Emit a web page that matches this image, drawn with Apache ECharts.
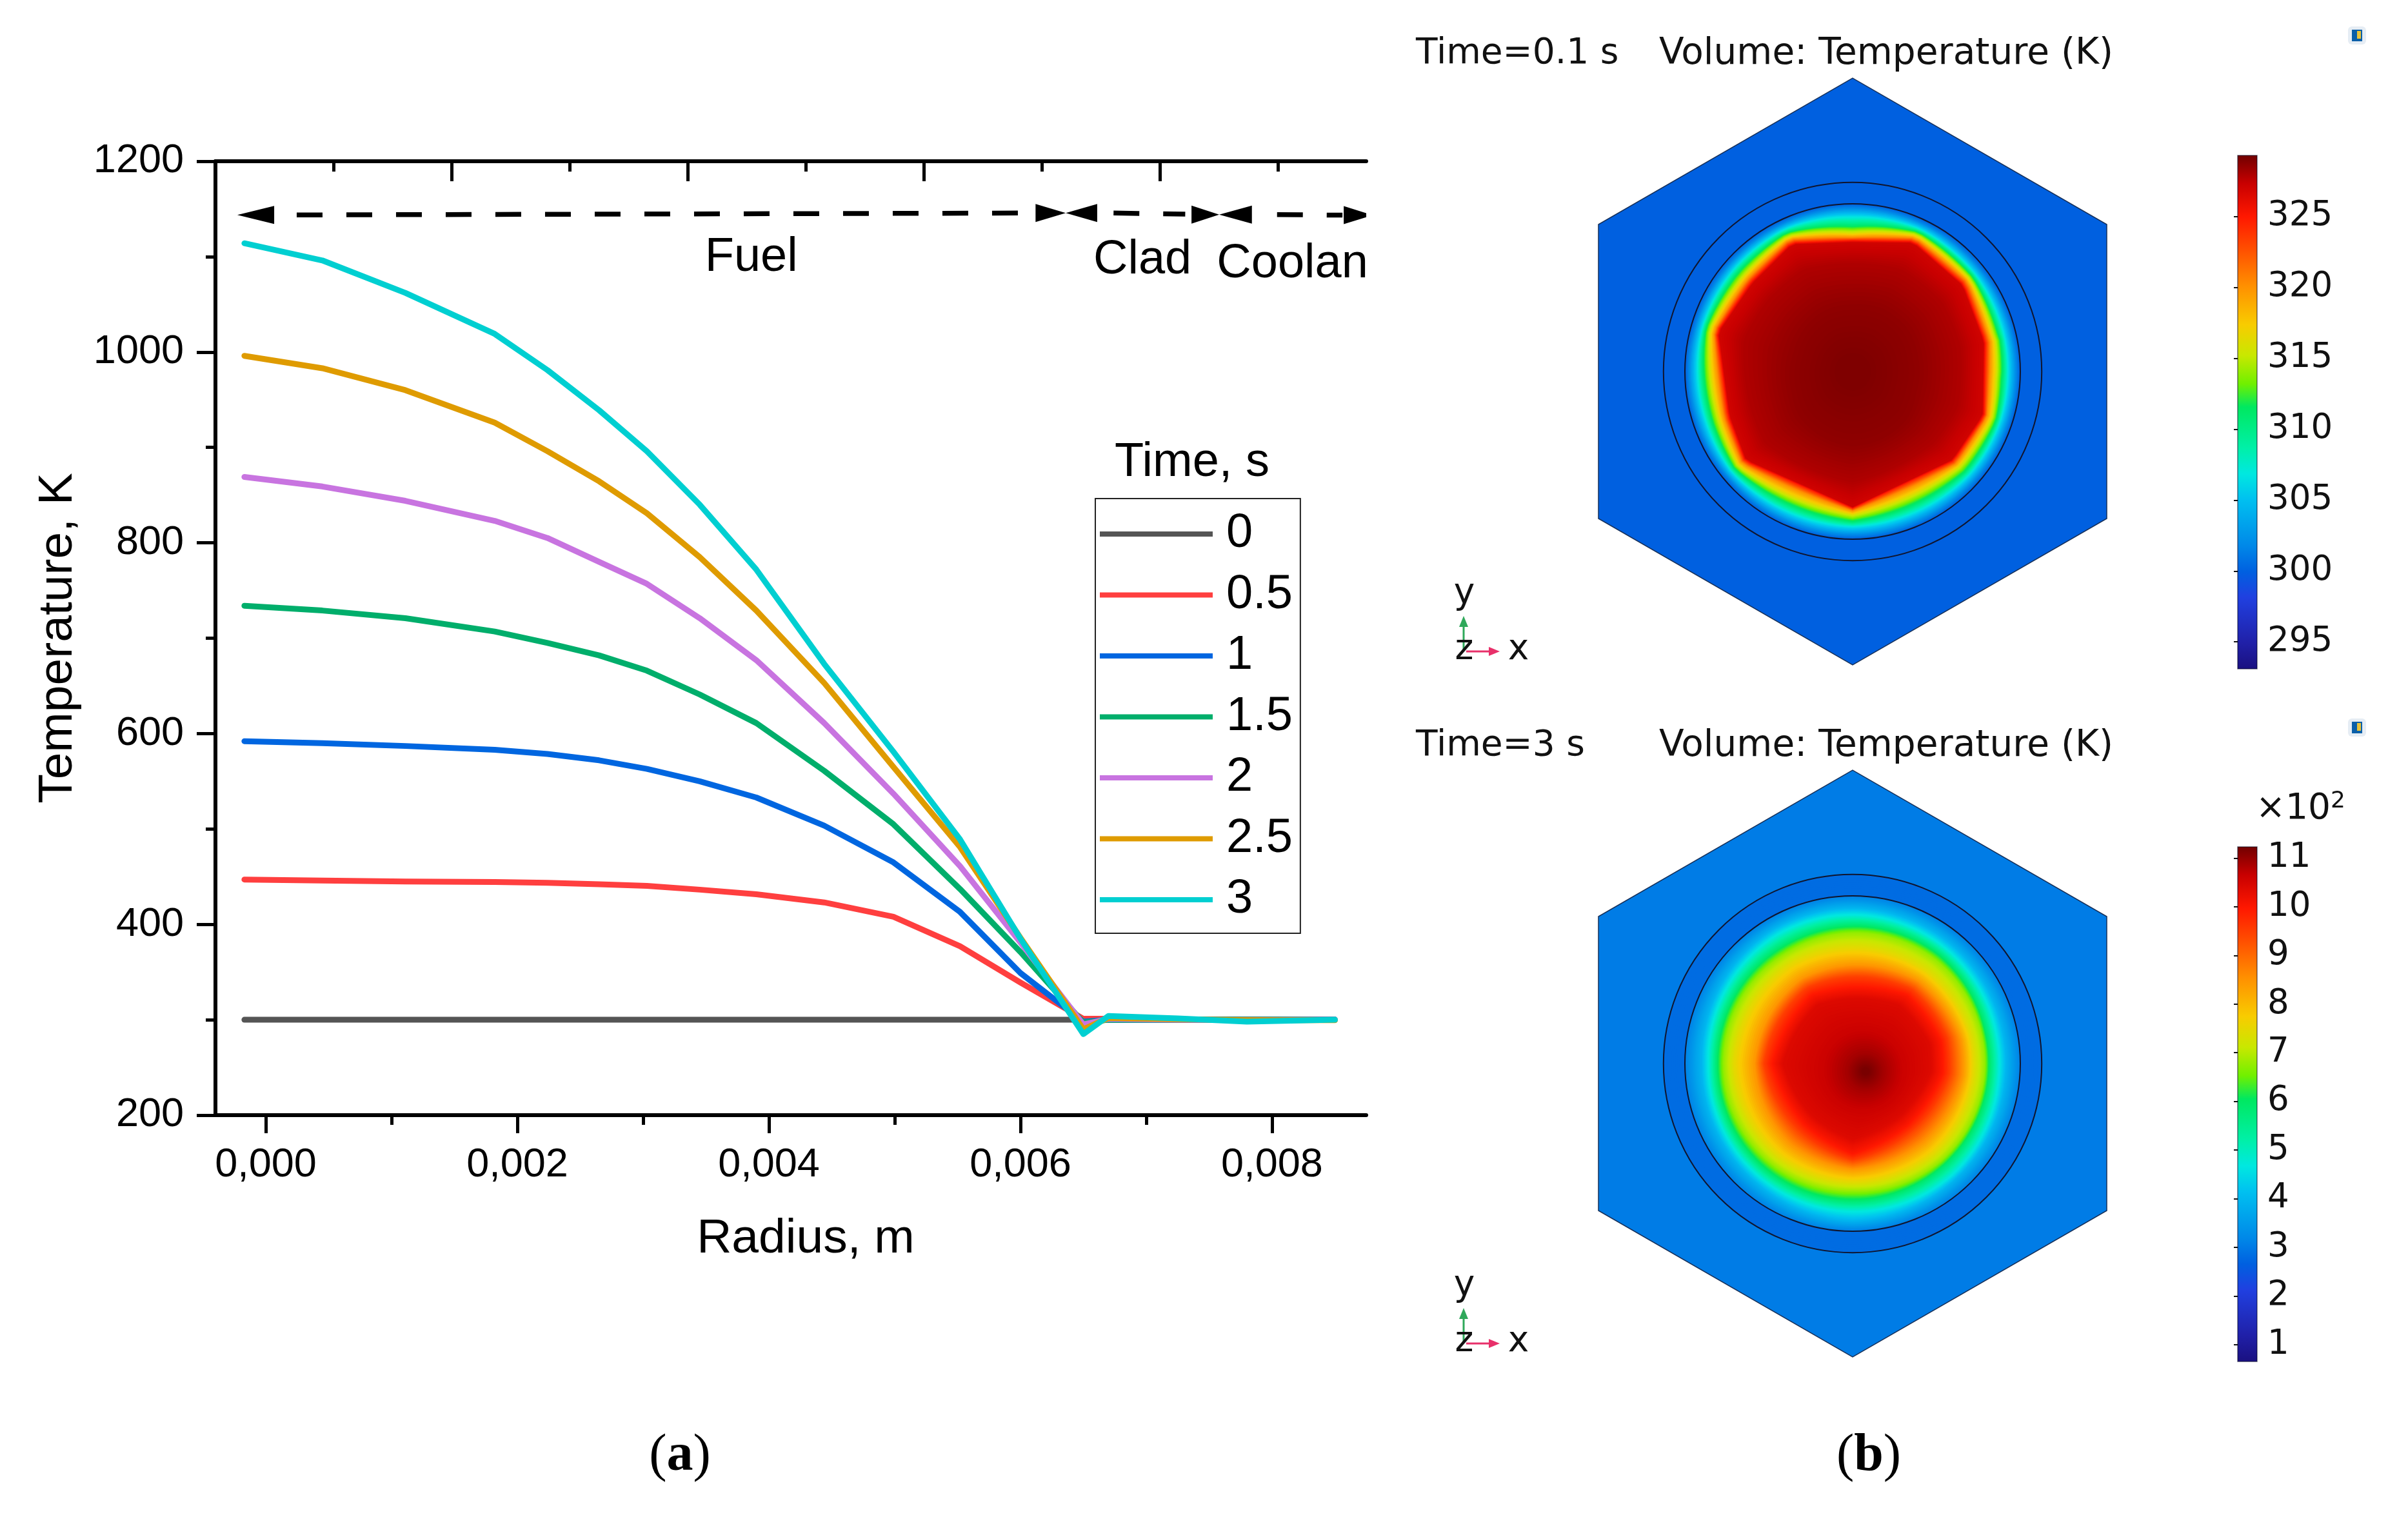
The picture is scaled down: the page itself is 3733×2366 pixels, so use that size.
<!DOCTYPE html>
<html>
<head>
<meta charset="utf-8">
<title>Temperature</title>
<script src="https://cdn.jsdelivr.net/npm/echarts@6/dist/echarts.min.js"></script>
<style>
  html, body { margin: 0; padding: 0; background: #fff; }
  #chart { width: 3733px; height: 2366px; }
</style>
</head>
<body>
<div id="chart"></div>
<script>
// (a) temperature profiles
const radius = [-0.00017, 0.00045, 0.00111, 0.00182, 0.00224, 0.00265, 0.00303, 0.00345, 0.0039, 0.00444, 0.00499, 0.00552, 0.006, 0.0065, 0.0067, 0.00725, 0.0078, 0.0085]
const timeLabels = ['0', '0.5', '1', '1.5', '2', '2.5', '3']
const lineColors = ['#555555', '#ff3f3f', '#0066e0', '#00ae6b', '#c874e0', '#df9b00', '#00cfd1']
const t0 = [300, 300, 300, 300, 300, 300, 300, 300, 300, 300, 300, 300, 300, 300, 300, 300, 300, 300]
const t05 = [447, 446, 445, 444.5, 443.6, 442, 440.4, 436.4, 431.6, 423, 408, 377, 339, 301, 301, 300, 300, 300]
const t1 = [592, 590, 587, 583, 578.6, 572, 563, 550, 533, 503.5, 465, 413, 349, 298, 300, 300, 300, 300]
const t15 = [734, 729, 721, 707, 695, 682, 666, 641, 611, 561, 505, 437, 371, 297, 300, 300, 300, 300]
const t2 = [869, 859, 844, 823, 805, 780, 757, 721, 677, 611, 537, 461, 381, 295, 301, 300, 299.5, 300]
const t25 = [996, 983, 960, 926, 896, 864.5, 831, 785, 729, 653, 565, 481, 386, 290, 302, 300.5, 299.5, 299.5]
const t3 = [1114, 1096, 1062, 1019, 981, 939, 896, 840, 772, 673, 581, 489, 385, 285, 304, 301.5, 298, 300]
const lineValues = [t0, t05, t1, t15, t2, t25, t3]

const xTicks = [0, 0.002, 0.004, 0.006, 0.008]
const xTickLabels = ['0,000', '0,002', '0,004', '0,006', '0,008']
const xMinorTicks = [0.001, 0.003, 0.005, 0.007]
const topTicks = [1, 2, 3, 4]
const topMinorTicks = [0.5, 1.5, 2.5, 3.5, 4.5]

// region arrows above the curves
const arrowTip = [-0.000226, 0.00636, 0.00636, 0.00758, 0.00758, 0.0088]
const arrowBase = [0.000067, 0.00612, 0.00661, 0.00736, 0.00784, 0.00857]
const arrowTemp = [1143.7, 1145.7, 1145.7, 1144, 1144, 1143.5]
const dashFuelX = [0.000246, 0.00601]
const dashFuelT = [1143.7, 1145.7]
const dashCladX = [0.00674, 0.00731]
const dashCladT = [1145.7, 1144.5]
const dashCoolantX = [0.00804, 0.00856]
const dashCoolantT = [1144, 1143.5]
const regionNames = ['Fuel', 'Clad', 'Coolant']
const regionX = [0.00386, 0.00697, 0.008215]
const regionT = [1099, 1096, 1092]

// (b) colour scale, positions counted from the bottom of the bar
const colorPos = [0, 0.052, 0.14, 0.19, 0.24, 0.33, 0.38, 0.43, 0.51, 0.555, 0.61, 0.67, 0.745, 0.82, 0.88, 0.945, 1]
const colorHex = ['#1a1080', '#2020a8', '#2040e0', '#0060e0', '#0088e8', '#00c0f0', '#00e8e0', '#00f0a8', '#00e860', '#70f000', '#c8e800', '#f8cc00', '#ff9000', '#ff4c00', '#ff1800', '#c80000', '#700000']

const barTopTicks = [295, 300, 305, 310, 315, 320, 325]
const barTopRange = [293.1, 329.3]
const barBottomTicks = [1, 2, 3, 4, 5, 6, 7, 8, 9, 10, 11]
const barBottomRange = [0.656, 11.23]

// cell outline in mm
const hexX = [0, 9.85, 9.85, 0, -9.85, -9.85]
const hexY = [11.37, 5.7, -5.7, -11.37, -5.7, 5.7]
const circleR = [6.5, 7.33]

// isotherms: [temperature, centre x, centre y, radius per angle, straightness of the edges]
const topAngles = [12.8, 38, 64.8, 90, 115.5, 139, 163.7, 199.8, 219.7, 270, 318.5, 341.4]
const topRings = [
  [300, 0, 0, [6.5, 6.5, 6.5, 6.5, 6.5, 6.5, 6.5, 6.5, 6.5, 6.5, 6.5, 6.5], 0],
  [301.8, 0, 0, [6.35, 6.35, 6.35, 6.35, 6.35, 6.35, 6.35, 6.35, 6.35, 6.35, 6.35, 6.35], 0],
  [306.9, 0, 0, [6.05, 6.08, 6.12, 6, 6.12, 6.08, 6.08, 6.02, 6.1, 6.02, 6.05, 6.05], 0.1],
  [311.2, 0, 0, [5.85, 5.95, 6, 5.65, 5.98, 5.88, 5.95, 5.8, 5.95, 5.83, 5.85, 5.9], 0.3],
  [316.3, 0, 0, [5.62, 5.78, 5.85, 5.36, 5.8, 5.6, 5.75, 5.5, 5.75, 5.55, 5.55, 5.68], 0.5],
  [320.3, 0, 0, [5.45, 5.65, 5.72, 5.2, 5.68, 5.42, 5.6, 5.3, 5.58, 5.4, 5.38, 5.5], 0.8],
  [325, 0, 0, [5.28, 5.48, 5.58, 5.08, 5.53, 5.25, 5.48, 5.13, 5.43, 5.3, 5.22, 5.38], 1],
  [327, 0, 0, [5.2, 5.4, 5.5, 5, 5.45, 5.16, 5.4, 5.05, 5.35, 5.25, 5.15, 5.3], 1],
  [327.9, 0, 0, [4.3, 4.4, 4.4, 4.2, 4.4, 4.3, 4.4, 4.2, 4.4, 4.3, 4.2, 4.3], 0.5],
  [328.6, 0, 0, [2.6, 2.7, 2.7, 2.6, 2.6, 2.5, 2.4, 2.5, 2.7, 2.9, 2.8, 2.6], 0],
  [329, 0, 0, [0.5, 0.5, 0.5, 0.5, 0.5, 0.5, 0.5, 0.5, 0.5, 0.5, 0.5, 0.5], 0]
]
const bottomAngles = [13, 52, 121, 180, 232, 270, 312, 353.5]
const bottomRings = [
  [283, 0, 0, [7.33, 7.33, 7.33, 7.33, 7.33, 7.33, 7.33, 7.33], 0],
  [283, 0, 0, [6.55, 6.55, 6.55, 6.55, 6.55, 6.55, 6.55, 6.55], 0],
  [320, 0, 0, [6.45, 6.45, 6.45, 6.45, 6.45, 6.45, 6.45, 6.45], 0],
  [400, 0, 0, [5.95, 6, 6.05, 5.85, 5.95, 6.1, 6, 5.95], 0],
  [470, 0, 0, [5.7, 5.75, 5.8, 5.6, 5.7, 5.75, 5.8, 5.7], 0],
  [600, 0, 0, [5.3, 5.4, 5.3, 5.25, 5.3, 5.3, 5.3, 5.3], 0],
  [680, 0, 0, [5.12, 5.15, 5, 5, 5, 4.95, 5.1, 5.12], 0],
  [750, 0, 0, [4.7, 4.6, 4.55, 4.6, 4.6, 4.6, 4.7, 4.7], 0.1],
  [850, 0, 0, [4.3, 4.1, 3.85, 3.8, 3.95, 4.1, 4.1, 4.3], 0.2],
  [950, 0, 0, [3.85, 3.7, 3.45, 3.45, 3.35, 3.75, 3.5, 3.8], 0.3],
  [1000, 0, 0, [3.55, 3.4, 3.1, 3.12, 3, 3.5, 3.2, 3.5], 0.5],
  [1040, 0, 0, [3.1, 2.9, 2.65, 2.7, 2.55, 2.95, 2.75, 3.05], 0.5],
  [1060, 0.4, -0.25, [1.6, 1.6, 1.6, 1.6, 1.6, 1.6, 1.6, 1.6], 0],
  [1090, 0.5, -0.3, [0.7, 0.7, 0.7, 0.7, 0.7, 0.7, 0.7, 0.7], 0],
  [1120, 0.5, -0.3, [0.1, 0.1, 0.1, 0.1, 0.1, 0.1, 0.1, 0.1], 0]
]

const SANS = 'Liberation Sans'
const DEJAVU = 'DejaVu Sans'

const hexRgb = h => [1, 3, 5].map(i => parseInt(h.substr(i, 2), 16))
const colorAt = t => {
  t = Math.max(0, Math.min(1, t))
  let i = 0
  while (i < colorPos.length - 2 && t > colorPos[i + 1]) i++
  const f = (t - colorPos[i]) / (colorPos[i + 1] - colorPos[i])
  const a = hexRgb(colorHex[i]), b = hexRgb(colorHex[i + 1])
  return 'rgb(' + a.map((v, k) => Math.round(v + (b[k] - v) * f)).join(',') + ')'
}

const ringPoints = (ring, angles) => {
  const pts = []
  const n = angles.length
  const rad = Math.PI / 180
  for (let k = 0; k < 120; k++) {
    const deg = k * 3
    let i = n - 1
    for (let j = 0; j < n; j++) if (angles[j] <= deg) i = j
    const next = (i + 1) % n
    const from = angles[i] <= deg ? angles[i] : angles[i] - 360
    const to = next === 0 ? angles[0] + 360 : angles[next]
    const f = (deg - from) / (to - from)
    const r1 = ring[3][i], r2 = ring[3][next]
    const arc = r1 + (r2 - r1) * f
    // straight edge between the two vertices
    const chord = r1 * r2 * Math.sin((to - from) * rad) / (r1 * Math.sin((deg - from) * rad) + r2 * Math.sin((to - deg) * rad))
    const r = arc + (chord - arc) * ring[4]
    pts.push([ring[1] + r * Math.cos(deg * rad), ring[2] + r * Math.sin(deg * rad)])
  }
  return pts
}

// one data item per pair of neighbouring isotherms, each band shaded with thin strips
const fieldSeries = (axis, rings, angles, range) => ({
  type: 'custom', xAxisIndex: axis.x, yAxisIndex: axis.y, silent: true, z: 3,
  data: rings.slice(1).map((r, i) => [i, 0]),
  renderItem: (params, api) => {
    const a = rings[api.value(0)], b = rings[api.value(0) + 1]
    const pa = ringPoints(a, angles), pb = ringPoints(b, angles)
    const children = []
    const strips = 10
    for (let s = 0; s < strips; s++) {
      const f = s / strips
      const temp = a[0] + (b[0] - a[0]) * f
      children.push({
        type: 'polygon',
        shape: { points: pa.map((p, k) => api.coord([p[0] + (pb[k][0] - p[0]) * f, p[1] + (pb[k][1] - p[1]) * f])) },
        style: { fill: colorAt((temp - range[0]) / (range[1] - range[0])) }
      })
    }
    return { type: 'group', children }
  }
})

const hexSeries = (axis, fill) => ({
  type: 'custom', xAxisIndex: axis.x, yAxisIndex: axis.y, silent: true, z: 2,
  data: [[0, 0]],
  renderItem: (params, api) => ({
    type: 'polygon',
    shape: { points: hexX.map((x, i) => api.coord([x, hexY[i]])) },
    style: { fill, stroke: '#16305a', lineWidth: 1.5 }
  })
})

const circleSeries = (axis) => ({
  type: 'custom', xAxisIndex: axis.x, yAxisIndex: axis.y, silent: true, z: 4,
  data: circleR.map(r => [r, 0]),
  renderItem: (params, api) => {
    const c = api.coord([0, 0])
    return {
      type: 'circle',
      shape: { cx: c[0], cy: c[1], r: api.size([api.value(0), 0])[0] },
      style: { fill: null, stroke: '#10152e', lineWidth: 2 }
    }
  }
})

const barSeries = (axis, range) => ({
  type: 'custom', xAxisIndex: axis.x, yAxisIndex: axis.y, silent: true, z: 2,
  data: [[0, range[0]]],
  renderItem: (params, api) => {
    const top = api.coord([0, range[1]]), bottom = api.coord([1, range[0]])
    return {
      type: 'rect',
      shape: { x: top[0], y: top[1], width: bottom[0] - top[0], height: bottom[1] - top[1] },
      style: {
        fill: new echarts.graphic.LinearGradient(0, 1, 0, 0, colorPos.map((p, i) => ({ offset: p, color: colorHex[i] }))),
        stroke: 'rgba(0,0,30,0.55)', lineWidth: 1.5
      }
    }
  }
})

const hiddenX = (gridIndex, min, max) => ({ type: 'value', gridIndex, min, max, show: false })
const fieldY = gridIndex => ({ type: 'value', gridIndex, min: -11.5, max: 11.5, show: false })
const barY = (gridIndex, position, ticks, range, labels) => ({
  type: 'value', gridIndex, position, min: range[0], max: range[1],
  axisLine: { show: false }, splitLine: { show: false },
  axisTick: { inside: true, length: 6, customValues: ticks, lineStyle: { color: '#111', width: 2 } },
  axisLabel: labels ? { customValues: ticks, margin: 16, color: '#111', fontFamily: DEJAVU, fontSize: 53, padding: [14, 0, 0, 0] } : { show: false }
})

const mainAxisLine = { onZero: false, lineStyle: { color: '#000', width: 6 } }
const tickStyle = { color: '#000', width: 5 }
const topAxis = (ticks, length) => ({
  type: 'value', gridIndex: 0, position: 'top', min: 0, max: 4.874,
  axisLine: ticks === topTicks ? mainAxisLine : { show: false },
  axisTick: { inside: true, length, customValues: ticks, lineStyle: tickStyle },
  axisLabel: { show: false }, splitLine: { show: false }
})

const xAxis = [
  {
    type: 'value', gridIndex: 0, position: 'bottom', min: -0.0004, max: 0.008749,
    name: 'Radius, m', nameLocation: 'middle', nameGap: 155,
    nameTextStyle: { color: '#000', fontFamily: SANS, fontSize: 75, padding: [0, 0, 0, 46] },
    axisLine: mainAxisLine,
    axisTick: { length: 28, customValues: xTicks, lineStyle: tickStyle },
    axisLabel: {
      customValues: xTicks, margin: 46, color: '#000', fontFamily: SANS, fontSize: 63,
      formatter: v => xTickLabels[xTicks.indexOf(v)]
    },
    splitLine: { show: false }
  },
  {
    type: 'value', gridIndex: 0, position: 'bottom', min: -0.0004, max: 0.008749,
    axisLine: { show: false, onZero: false },
    axisTick: { length: 15, customValues: xMinorTicks, lineStyle: tickStyle },
    axisLabel: { show: false }, splitLine: { show: false }
  },
  topAxis(topTicks, 31),
  topAxis(topMinorTicks, 16),
  hiddenX(1, -10, 10), hiddenX(2, 0, 1), hiddenX(3, -10, 10), hiddenX(4, 0, 1)
]

const yAxis = [
  {
    type: 'value', gridIndex: 0, min: 200, max: 1200, interval: 200,
    name: 'Temperature, K', nameLocation: 'middle', nameGap: 206, nameRotate: 90,
    nameTextStyle: { color: '#000', fontFamily: SANS, fontSize: 75 },
    axisLine: mainAxisLine,
    axisTick: { length: 29, lineStyle: tickStyle },
    minorTick: { show: true, splitNumber: 2, length: 15, lineStyle: tickStyle },
    axisLabel: { margin: 49, color: '#000', fontFamily: SANS, fontSize: 63, formatter: v => String(v), padding: [12, 0, 0, 0] },
    splitLine: { show: false }
  },
  fieldY(1),
  barY(2, 'right', barTopTicks, barTopRange, true),
  barY(2, 'left', barTopTicks, barTopRange, false),
  fieldY(3),
  barY(4, 'right', barBottomTicks, barBottomRange, true),
  barY(4, 'left', barBottomTicks, barBottomRange, false)
]

const dashSeries = (xs, ts) => ({
  type: 'line', xAxisIndex: 0, yAxisIndex: 0, silent: true, symbol: 'none', z: 3,
  data: xs.map((x, i) => [x, ts[i]]),
  lineStyle: { color: '#000', width: 7.5, type: [40, 37] }
})

const series = [
  ...timeLabels.map((name, i) => ({
    name, type: 'line', xAxisIndex: 0, yAxisIndex: 0, symbol: 'none', z: 5,
    data: radius.map((x, k) => [x, lineValues[i][k]]),
    lineStyle: { color: lineColors[i], width: 9, cap: 'round', join: 'round' },
    itemStyle: { color: lineColors[i] }
  })),
  dashSeries(dashFuelX, dashFuelT),
  dashSeries(dashCladX, dashCladT),
  dashSeries(dashCoolantX, dashCoolantT),
  {
    type: 'custom', xAxisIndex: 0, yAxisIndex: 0, silent: true, clip: true, z: 3,
    data: arrowTip.map((x, i) => [x, arrowTemp[i], arrowBase[i]]),
    renderItem: (params, api) => {
      const tip = api.coord([api.value(0), api.value(1)])
      const base = api.coord([api.value(2), api.value(1)])
      return {
        type: 'polygon',
        shape: { points: [tip, [base[0], base[1] - 14], [base[0], base[1] + 14]] },
        style: { fill: '#000' }
      }
    }
  },
  {
    type: 'custom', xAxisIndex: 0, yAxisIndex: 0, silent: true, clip: true, z: 3,
    data: regionNames.map((name, i) => [regionX[i], regionT[i], name]),
    encode: { x: 0, y: 1 },
    renderItem: (params, api) => {
      const p = api.coord([api.value(0), api.value(1)])
      return {
        type: 'text',
        style: {
          x: p[0], y: p[1], text: regionNames[params.dataIndex], fill: '#000',
          font: '74px "' + SANS + '"', textAlign: 'center', textVerticalAlign: 'middle'
        }
      }
    }
  },
  hexSeries({ x: 4, y: 1 }, colorAt((300 - barTopRange[0]) / (barTopRange[1] - barTopRange[0]))),
  fieldSeries({ x: 4, y: 1 }, topRings, topAngles, barTopRange),
  circleSeries({ x: 4, y: 1 }),
  barSeries({ x: 5, y: 2 }, barTopRange),
  hexSeries({ x: 6, y: 4 }, colorAt((303 / 100 - barBottomRange[0]) / (barBottomRange[1] - barBottomRange[0]))),
  fieldSeries({ x: 6, y: 4 }, bottomRings, bottomAngles, barBottomRange.map(v => v * 100)),
  circleSeries({ x: 6, y: 4 }),
  barSeries({ x: 7, y: 5 }, barBottomRange)
]

const label = (x, y, text, size, extra) => ({
  type: 'text', x, y, silent: true,
  style: Object.assign({ text, fill: '#111', font: size + 'px "' + DEJAVU + '"', textVerticalAlign: 'middle' }, extra)
})

// coordinate triad and the little COMSOL badge, dy moves them down to the lower plot
const triad = dy => [
  { type: 'line', silent: true, shape: { x1: 2269, y1: 1007 + dy, x2: 2269, y2: 960 + dy }, style: { stroke: '#2fa85a', lineWidth: 3 } },
  { type: 'polygon', silent: true, shape: { points: [[2269, 955 + dy], [2262, 972 + dy], [2276, 972 + dy]] }, style: { fill: '#2fa85a' } },
  { type: 'line', silent: true, shape: { x1: 2273, y1: 1010 + dy, x2: 2315, y2: 1010 + dy }, style: { stroke: '#e8306a', lineWidth: 3 } },
  { type: 'polygon', silent: true, shape: { points: [[2325, 1010 + dy], [2308, 1003 + dy], [2308, 1017 + dy]] }, style: { fill: '#e8306a' } },
  label(2270, 921 + dy, 'y', 55, { textAlign: 'center' }),
  label(2270, 1008 + dy, 'z', 55, { textAlign: 'center' }),
  label(2354, 1008 + dy, 'x', 55, { textAlign: 'center' })
]
const badge = y => [
  { type: 'rect', silent: true, shape: { x: 3640, y: y - 14, width: 28, height: 28, r: 6 }, style: { fill: '#e6edf4' } },
  { type: 'rect', silent: true, shape: { x: 3646, y: y - 9, width: 16, height: 18 }, style: { fill: '#0b5fa8' } },
  { type: 'rect', silent: true, shape: { x: 3654, y: y - 7, width: 6, height: 12 }, style: { fill: '#e8c23a' } }
]

const panelTag = (x, letter) => ({
  type: 'text', x, y: 2258, silent: true,
  style: {
    text: '{r|(}{b|' + letter + '}{r|)}', textAlign: 'center', textVerticalAlign: 'middle',
    rich: {
      r: { fontFamily: 'Liberation Serif', fontSize: 82, fontWeight: 'normal', fill: '#000' },
      b: { fontFamily: 'Liberation Serif', fontSize: 82, fontWeight: 'bold', fill: '#000' }
    }
  }
})

const option = {
  animation: false,
  backgroundColor: '#fff',
  grid: [
    { left: 334, top: 250, width: 1784, height: 1479 },
    { left: 2472, top: 116, width: 800, height: 920 },
    { left: 3469, top: 241, width: 30, height: 796 },
    { left: 2472, top: 1189, width: 800, height: 920 },
    { left: 3469, top: 1313, width: 30, height: 798 }
  ],
  xAxis,
  yAxis,
  legend: {
    data: timeLabels, orient: 'vertical', left: 1698, top: 773,
    padding: [13, 12, 10, 7], itemWidth: 175, itemHeight: 8, itemGap: 10.5, icon: 'rect',
    backgroundColor: '#fff', borderColor: '#222', borderWidth: 2,
    textStyle: { color: '#000', fontFamily: SANS, fontSize: 74, lineHeight: 74, padding: [10, 0, 0, 16] }
  },
  graphic: [
    { type: 'text', x: 1848, y: 718, silent: true, style: { text: 'Time, s', fill: '#000', font: '74px "' + SANS + '"', textAlign: 'center', textVerticalAlign: 'middle' } },
    label(2195, 84, 'Time=0.1 s', 55),
    label(2572, 84, 'Volume: Temperature (K)', 56.5),
    label(2195, 1157, 'Time=3 s', 55),
    label(2572, 1157, 'Volume: Temperature (K)', 56.5),
    {
      type: 'text', x: 3497, y: 1255, silent: true,
      style: {
        text: '{m|\u00d710}{s|2}', textVerticalAlign: 'middle',
        rich: {
          m: { fontFamily: DEJAVU, fontSize: 55, fill: '#111' },
          s: { fontFamily: DEJAVU, fontSize: 36, fill: '#111', verticalAlign: 'top', padding: [0, 0, 24, 0] }
        }
      }
    },
    ...triad(0), ...triad(1073),
    ...badge(55), ...badge(1128),
    panelTag(1054, 'a'), panelTag(2897, 'b')
  ],
  series
}

const chart = echarts.init(document.getElementById('chart'), null, { renderer: 'canvas' })
chart.setOption(option)
</script>
</body>
</html>
